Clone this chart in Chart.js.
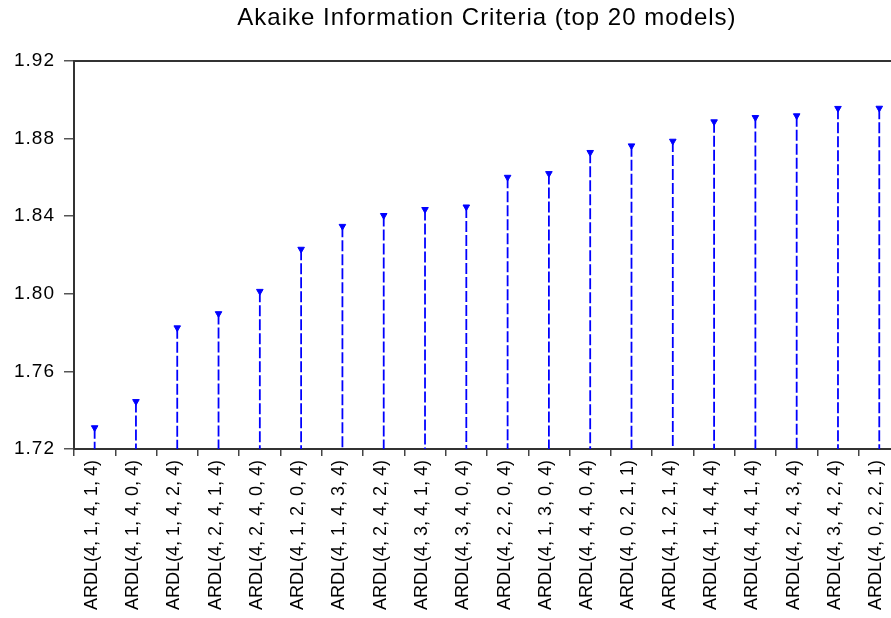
<!DOCTYPE html>
<html>
<head>
<meta charset="utf-8">
<script src="https://cdn.jsdelivr.net/npm/chart.js@4.4.1/dist/chart.umd.min.js"></script>
<style>
  html, body { margin: 0; padding: 0; background: #ffffff; overflow: hidden; }
  #wrap { width: 891px; height: 618px; overflow: hidden; }
  canvas { display: block; }
</style>
</head>
<body>
<div id="wrap"><canvas id="c" width="905" height="618"></canvas></div>
<script>
const titleText = 'Akaike Information Criteria (top 20 models)';

const models = [
  'ARDL(4, 1, 4, 1, 4)', 'ARDL(4, 1, 4, 0, 4)', 'ARDL(4, 1, 4, 2, 4)', 'ARDL(4, 2, 4, 1, 4)',
  'ARDL(4, 2, 4, 0, 4)', 'ARDL(4, 1, 2, 0, 4)', 'ARDL(4, 1, 4, 3, 4)', 'ARDL(4, 2, 4, 2, 4)',
  'ARDL(4, 3, 4, 1, 4)', 'ARDL(4, 3, 4, 0, 4)', 'ARDL(4, 2, 2, 0, 4)', 'ARDL(4, 1, 3, 0, 4)',
  'ARDL(4, 4, 4, 0, 4)', 'ARDL(4, 0, 2, 1, 1)', 'ARDL(4, 1, 2, 1, 4)', 'ARDL(4, 1, 4, 4, 4)',
  'ARDL(4, 4, 4, 1, 4)', 'ARDL(4, 2, 4, 3, 4)', 'ARDL(4, 3, 4, 2, 4)', 'ARDL(4, 0, 2, 2, 1)'
];

const aicValues = [
  1.7310, 1.7445, 1.7825, 1.7898, 1.8013, 1.8230, 1.8348, 1.8404, 1.8435, 1.8448,
  1.8601, 1.8620, 1.8729, 1.8763, 1.8787, 1.8887, 1.8909, 1.8918, 1.8956, 1.8957
];

const yTicks = [1.72, 1.76, 1.80, 1.84, 1.88, 1.92];
const yMin = 1.72;
const yMax = 1.92;

// stems: from each value down to the axis minimum, broken by nulls
const stemData = [];
models.forEach((m, i) => {
  stemData.push({ x: m, y: aicValues[i] });
  stemData.push({ x: m, y: yMin });
  stemData.push({ x: m, y: null });
});

const FONT = "'Liberation Sans', Arial, Helvetica, sans-serif";

function withSpacing(obj, method, spacing) {
  if (!obj || obj['__ws_' + method]) return;
  const orig = obj[method];
  obj[method] = function () {
    const ctx = this.ctx || (this.chart && this.chart.ctx);
    ctx.save();
    ctx.letterSpacing = spacing;
    const r = orig.apply(this, arguments);
    ctx.restore();
    return r;
  };
  obj['__ws_' + method] = true;
}

const framePlugin = {
  id: 'frame',
  beforeDraw(chart) {
    withSpacing(chart.scales.y, 'drawLabels', '1px');
    withSpacing(chart.titleBlock, 'draw', '1px');
  },
  afterDraw(chart) {
    const { ctx, chartArea } = chart;
    ctx.save();
    ctx.strokeStyle = '#333333';
    ctx.lineWidth = 2;
    ctx.beginPath();
    ctx.moveTo(chartArea.left, chartArea.top);
    ctx.lineTo(chartArea.right, chartArea.top);
    ctx.lineTo(chartArea.right, chartArea.bottom);
    ctx.stroke();
    ctx.restore();
  }
};

new Chart(document.getElementById('c'), {
  type: 'line',
  data: {
    labels: models,
    datasets: [
      {
        label: 'stems',
        data: stemData,
        borderColor: '#0000ff',
        borderWidth: 1.8,
        borderDash: [11, 3],
        pointRadius: 0,
        spanGaps: false,
        fill: false
      },
      {
        label: 'AIC',
        data: aicValues,
        showLine: false,
        pointStyle: 'triangle',
        rotation: 180,
        pointRadius: 3.8,
        pointBackgroundColor: '#0000ff',
        pointBorderColor: '#0000ff',
        pointBorderWidth: 1
      }
    ]
  },
  options: {
    responsive: false,
    animation: false,
    devicePixelRatio: 1,
    layout: { padding: 0 },
    plugins: {
      legend: { display: false },
      tooltip: { enabled: false },
      title: {
        display: true,
        text: titleText,
        fullSize: false,
        color: '#000000',
        font: { family: FONT, size: 24, weight: 'normal', lineHeight: 1.2 },
        padding: { top: 4, bottom: 28.2 }
      }
    },
    scales: {
      x: {
        type: 'category',
        offset: true,
        grid: {
          offset: true,
          drawOnChartArea: false,
          drawTicks: true,
          tickLength: 7,
          color: '#444444',
          lineWidth: 1.5
        },
        border: { display: true, color: '#333333', width: 2 },
        ticks: {
          autoSkip: false,
          minRotation: 90,
          maxRotation: 90,
          padding: 4,
          labelOffset: -3,
          color: '#000000',
          font: { family: FONT, size: 18 }
        },
        afterFit(scale) { scale.height = 169; }
      },
      y: {
        min: yMin,
        max: yMax,
        afterBuildTicks(scale) { scale.ticks = yTicks.map(v => ({ value: v })); },
        grid: {
          drawOnChartArea: false,
          drawTicks: true,
          tickLength: 10,
          color: '#555555',
          lineWidth: 1.5
        },
        border: { display: true, color: '#333333', width: 2 },
        ticks: {
          padding: 9,
          color: '#000000',
          font: { family: FONT, size: 19 },
          callback: (v) => Number(v).toFixed(2)
        },
        afterFit(scale) { scale.width = 74; }
      }
    }
  },
  plugins: [framePlugin]
});
</script>
</body>
</html>
